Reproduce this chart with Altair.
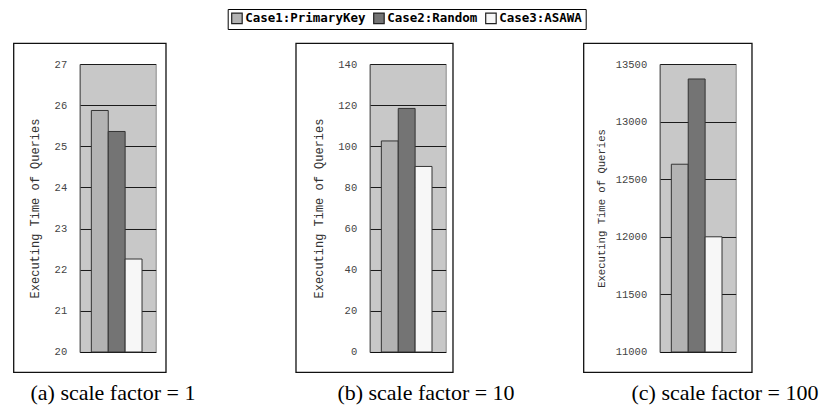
import altair as alt
import pandas as pd

cases = ["Case1:PrimaryKey", "Case2:Random", "Case3:ASAWA"]
colors = ["#b3b3b3", "#747474", "#f7f7f7"]

vals_a = [25.87, 25.36, 22.26]
vals_b = [102.6, 118.4, 90.2]
vals_c = [12630, 13370, 12000]

ticks_a = [20, 21, 22, 23, 24, 25, 26, 27]
ticks_b = [0, 20, 40, 60, 80, 100, 120, 140]
ticks_c = [11000, 11500, 12000, 12500, 13000, 13500]

captions = ["(a) scale factor = 1", "(b) scale factor = 10", "(c) scale factor = 100"]
ytitle = "Executing Time of Queries"

W, H = 76, 288

legend = alt.Legend(
    title=None, orient="none", legendX=148, legendY=-55, direction="horizontal",
    symbolType="square", symbolSize=110, symbolStrokeColor="#222222", symbolStrokeWidth=1.2,
    labelFont="DejaVu Sans Mono", labelFontWeight="bold", labelFontSize=12.5, labelColor="#000000",
    strokeColor="#000000", padding=3, columnPadding=5, labelOffset=2, symbolOpacity=1,
)


def panel(vals, ticks, cap, title_x, title_size, frame, cap_x):
    df = pd.DataFrame({"case": cases, "value": vals})
    lo, hi = ticks[0], ticks[-1]
    bars = alt.Chart(df).mark_bar(stroke="#333333", strokeWidth=1, opacity=1).encode(
        x=alt.X("case:N", sort=cases,
                scale=alt.Scale(paddingInner=0, paddingOuter=0.75, align=0.46),
                axis=alt.Axis(labels=False, ticks=False, title=None, domain=True,
                              domainColor="#111111", grid=False)),
        y=alt.Y("value:Q", scale=alt.Scale(domain=[lo, hi], zero=False, nice=False),
                axis=alt.Axis(values=ticks, title=ytitle, format="d",
                              titleFont="Liberation Mono", titleFontSize=title_size,
                              titleFontWeight="normal", titleColor="#333333",
                              titleX=title_x, titleBaseline="middle",
                              labelFont="Liberation Mono", labelFontSize=10.5,
                              labelColor="#444444", labelPadding=13, ticks=False,
                              domain=True, domainColor="#555555",
                              grid=True, gridColor="#1a1a1a", gridWidth=1)),
        y2=alt.datum(lo),
        color=alt.Color("case:N", scale=alt.Scale(domain=cases, range=colors), legend=legend),
    )
    fr = alt.Chart(pd.DataFrame({"k": [0]})).mark_rect(
        fillOpacity=0, stroke="#111111", strokeWidth=1.3
    ).encode(x=alt.value(frame[0]), x2=alt.value(frame[1]),
             y=alt.value(frame[2]), y2=alt.value(frame[3]))
    txt = alt.Chart(pd.DataFrame({"cap": [cap]})).mark_text(
        font="Liberation Serif", fontSize=22, color="#000000", baseline="middle", align="center"
    ).encode(x=alt.value(cap_x), y=alt.value(329), text="cap:N")
    return alt.layer(bars, fr, txt).properties(width=W, height=H)


pa = panel(vals_a, ticks_a, captions[0], -44.7, 12, (-66, 86.3, -20.6, 308.4), 33.3)
pb = panel(vals_b, ticks_b, captions[1], -51, 12, (-73.7, 83.3, -20.6, 308.4), 56.3)
pc = panel(vals_c, ticks_c, captions[2], -57.7, 10.6, (-76, 92.3, -20.6, 308.4), 65.3)

chart = alt.hconcat(pa, pb, pc, spacing=214, bounds="flush").properties(
    padding={"left": 3.7, "top": 0, "right": 2, "bottom": 2}
).configure_view(fill="#c8c8c8", stroke="#8a8a8a")

chart.save("out.html", embed_options={"renderer": "svg", "actions": False})
